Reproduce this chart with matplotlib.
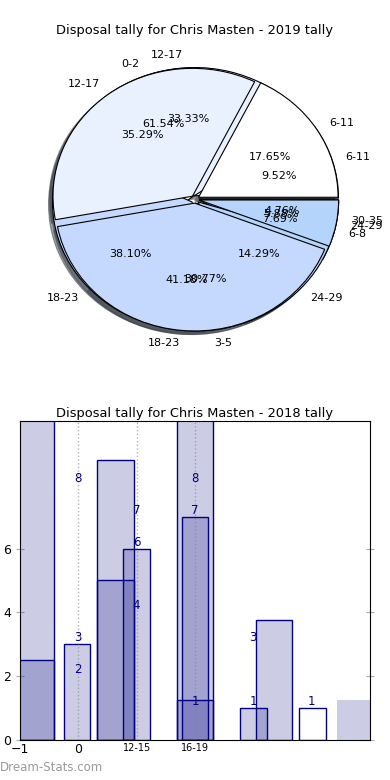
import numpy as np
import matplotlib.pyplot as plt

# 2019 pies (three sets drawn over each other)
labels_a = ["0-2", "3-5", "6-8"]
values_a = [8, 4, 1]
labels_b = ["6-11", "12-17", "18-23", "24-29", "30-35"]
values_b = [2, 7, 8, 3, 1]
labels_c = ["6-11", "12-17", "18-23", "24-29"]
values_c = [3, 6, 7, 1]
pie_colors = ["#ffffff", "#eaf1fe", "#c5d8fd", "#b4d4fc", "#a9cbfa"]

# 2018 bars
bar_left = [-1.3, -1.3, -0.241, 0.328, 0.328, 0.759, 1.69, 1.776, 1.69, 2.776, 3.05, 3.79, 4.43]
bar_width = [0.886, 0.886, 0.448, 0.62, 0.62, 0.465, 0.62, 0.448, 0.62, 0.465, 0.62, 0.45, 0.62]
bar_height = [11, 2.5, 3, 8.77, 5, 6, 11, 7, 1.25, 1, 3.77, 1, 1.25]
bar_filled = [1, 1, 1, 1, 1, 1, 1, 1, 1, 1, 1, 0, 1]
bar_edged = [1, 1, 1, 1, 1, 1, 1, 1, 1, 1, 1, 1, 0]
label_x = [0, 0, 0, 1, 1, 1, 2, 2, 2, 3, 3, 4]
label_y = [8, 3, 2, 7, 6, 4, 8, 7, 1, 1, 3, 1]
tick_pos = [-1, 0, 1, 2]
tick_labels = ["\u22121", "0", "12-15", "16-19"]

fig = plt.figure(figsize=(3.9, 7.8), dpi=100)

# ---- pie chart ----
ax1 = fig.add_axes([0.128, 0.574, 0.744, 0.341])
for vals, labs in [(values_a, labels_a), (values_b, labels_b), (values_c, labels_c)]:
    ax1.pie(vals, labels=labs, autopct="%1.2f%%", colors=pie_colors[:len(vals)],
            explode=[0.03] * len(vals), shadow=True,
            wedgeprops=dict(edgecolor="black", linewidth=0.8),
            textprops=dict(fontsize=8))
ax1.set_aspect("auto")
ax1.set_xlim(-1.04, 1.04)
ax1.set_ylim(-1.04, 1.04)
fig.text(0.5, 0.961, "Disposal tally for Chris Masten - 2019 tally", ha="center", va="center", fontsize=9.4)

# ---- bar chart ----
ax2 = fig.add_axes([0.0513, 0.0513, 0.897, 0.409])
for l, w, h, f, e in zip(bar_left, bar_width, bar_height, bar_filled, bar_edged):
    ax2.bar(l, h, width=w, align="edge",
            facecolor=(0, 0, 0.5, 0.2) if f else "none",
            edgecolor="navy" if e else "none", linewidth=1, zorder=2)
for x, y in zip(label_x, label_y):
    ax2.text(x, y, str(y), ha="center", va="bottom", color="navy", fontsize=8.5, zorder=4)
for x in [0, 1, 2]:
    ax2.axvline(x, color="grey", linestyle=":", linewidth=1, alpha=0.6, zorder=3)

ax2.set_xlim(-1, 5)
ax2.set_ylim(0, 10)
ax2.set_yticks([0, 2, 4, 6])
ax2.set_xticks(tick_pos)
ax2.set_xticklabels(tick_labels)
for t in ax2.get_xticklabels()[2:]:
    t.set_fontsize(7)
for t in ax2.get_xticklabels()[:2]:
    t.set_fontsize(9)
ax2.tick_params(axis="y", labelsize=9, right=True, direction="inout", length=6, color="#aaaaaa")
ax2.tick_params(axis="x", top=False, direction="inout", length=0, pad=2)
ax2.set_title("Disposal tally for Chris Masten - 2018 tally", fontsize=9.4, pad=3)

fig.text(0.0, 0.008, "Dream-Stats.com", color="#999999", fontsize=8.5,
         ha="left", va="bottom")

fig.savefig("out.png", dpi=100)
